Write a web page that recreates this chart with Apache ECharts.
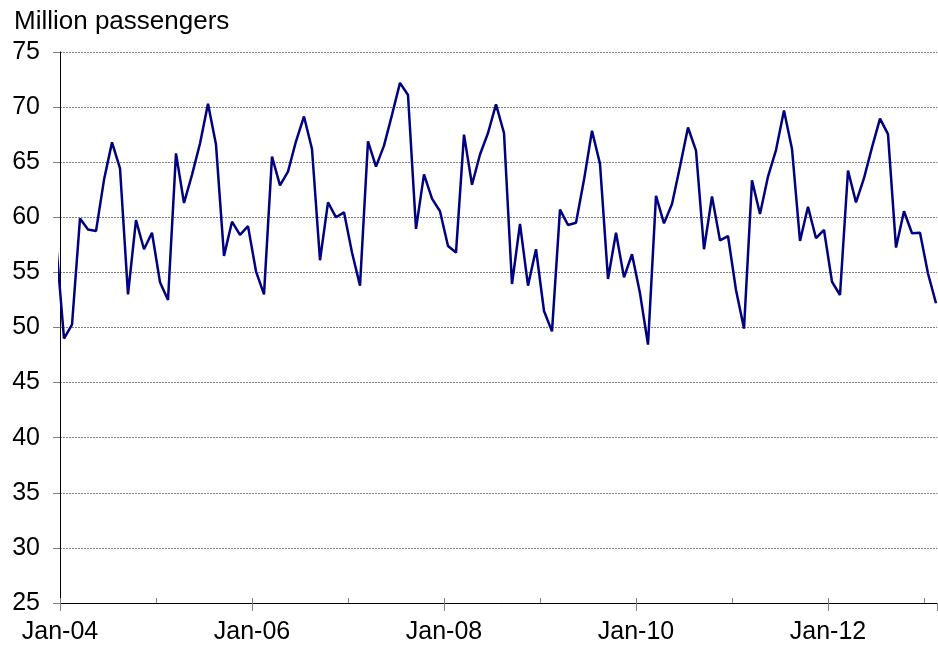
<!DOCTYPE html>
<html>
<head>
<meta charset="utf-8">
<script src="https://cdn.jsdelivr.net/npm/echarts@6/dist/echarts.min.js"></script>
<style>
  html, body { margin: 0; padding: 0; background: #fff; }
  #chart { width: 938px; height: 648px; }
</style>
</head>
<body>
<div id="chart"></div>
<script>
// monthly values, starting Dec-03 (first one sits left of the axis and is clipped)
var firstMonthOffset = -1; // months from Jan-04
var passengers = [
  57.8,
  49.0, 50.25, 59.9, 58.9, 58.75, 63.4, 66.8, 64.45, 53.0, 59.75, 57.1, 58.6,
  54.1, 52.5, 65.8, 61.3, 63.85, 66.7, 70.3, 66.6, 56.5, 59.6, 58.4, 59.2,
  55.1, 53.0, 65.5, 62.9, 64.15, 66.9, 69.15, 66.2, 56.1, 61.35, 60.0, 60.45,
  56.8, 53.8, 66.9, 64.6, 66.5, 69.3, 72.2, 71.1, 58.95, 63.9, 61.7, 60.55,
  57.4, 56.8, 67.5, 62.95, 65.7, 67.65, 70.25, 67.65, 53.95, 59.4, 53.8, 57.1,
  51.5, 49.65, 60.7, 59.3, 59.5, 63.4, 67.85, 64.85, 54.4, 58.6, 54.55, 56.65,
  53.1, 48.45, 61.95, 59.45, 61.2, 64.6, 68.15, 66.05, 57.1, 61.9, 57.9, 58.3,
  53.4, 49.9, 63.35, 60.3, 63.7, 66.1, 69.7, 66.2, 57.85, 60.95, 58.1, 58.85,
  54.15, 52.95, 64.25, 61.35, 63.55, 66.35, 68.95, 67.55, 57.25, 60.55, 58.55, 58.6,
  54.9, 52.2
];
// one label per year tick, only every other year is written
var xTickLabels = ['Jan-04', '', 'Jan-06', '', 'Jan-08', '', 'Jan-10', '', 'Jan-12', ''];
var yMin = 25, yMax = 75, yStep = 5;

var FONT = 'Liberation Sans, Arial, sans-serif';

// points sit in the middle of their month
var lineData = passengers.map(function (v, i) {
  return [firstMonthOffset + i + 0.5, v];
});

var myChart = echarts.init(document.getElementById('chart'));
var option = {
  animation: false,
  title: {
    text: 'Million passengers',
    left: 9,
    top: 4,
    textStyle: { fontFamily: FONT, fontSize: 26, fontWeight: 'normal', color: '#000' }
  },
  grid: { left: 60, top: 52, width: 877, height: 551 },
  xAxis: [
    {
      type: 'value',
      min: 0,
      max: 109.625,
      interval: 12,
      axisLine: { show: true, lineStyle: { color: '#000', width: 1 } },
      axisTick: { show: true, inside: true, length: 5, lineStyle: { color: '#808080' } },
      splitLine: { show: false },
      axisLabel: {
        margin: 17,
        fontFamily: FONT,
        fontSize: 25,
        color: '#000',
        showMaxLabel: false,
        formatter: function (v) { return xTickLabels[Math.round(v / 12)] || ''; }
      }
    },
    {
      // longer outside ticks under the labelled years
      type: 'value',
      position: 'bottom',
      min: 0,
      max: 109.625,
      interval: 24,
      axisLine: { show: false },
      axisTick: { show: true, inside: false, length: 8, lineStyle: { color: '#808080' } },
      axisLabel: { show: false },
      splitLine: { show: false }
    }
  ],
  yAxis: {
    type: 'value',
    min: yMin,
    max: yMax,
    interval: yStep,
    axisLine: { show: true, lineStyle: { color: '#000', width: 1 } },
    axisTick: { show: true, length: 7, lineStyle: { color: '#808080' } },
    axisLabel: { margin: 20, fontFamily: FONT, fontSize: 25, color: '#000' },
    splitLine: { show: true, lineStyle: { color: '#808080', type: [2, 1], width: 1 } }
  },
  series: [{
    type: 'line',
    data: lineData,
    xAxisIndex: 0,
    showSymbol: false,
    clip: true,
    lineStyle: { color: '#000080', width: 2.5 }
  }]
};
myChart.setOption(option);
</script>
</body>
</html>
